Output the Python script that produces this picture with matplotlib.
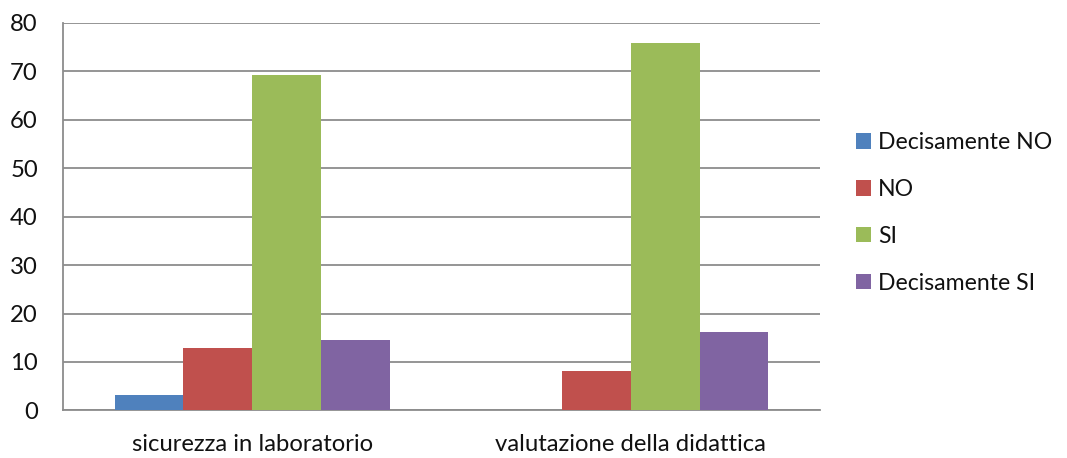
import numpy as np
import matplotlib
matplotlib.use("Agg")
import matplotlib.pyplot as plt
from matplotlib.patches import Patch

categories = ["sicurezza in laboratorio", "valutazione della didattica"]
series = ["Decisamente NO", "NO", "SI", "Decisamente SI"]
decisamente_no = [3.1, 0]
no = [12.9, 8.1]
si = [69.3, 75.9]
decisamente_si = [14.5, 16.1]
colors = ["#4f81bd", "#c0504d", "#9bbb59", "#8064a2"]

plt.rcParams['font.family'] = ['Lato', 'DejaVu Sans']

fig = plt.figure(figsize=(10.67, 4.58), dpi=100)
ax = fig.add_axes([0.059, 0.104, 0.7095, 0.846])

values = [decisamente_no, no, si, decisamente_si]
width = 1 / 5.5
x = np.arange(len(categories))
for i, (vals, c) in enumerate(zip(values, colors)):
    ax.bar(x + (i - 1.5) * width, vals, width, color=c, zorder=3)

ax.set_xlim(-0.5, 1.5)
ax.set_ylim(0, 80)
ax.set_yticks(range(0, 81, 10))
ax.set_xticks(x)
ax.set_xticklabels(categories)
ax.yaxis.grid(True, color="#8c8c8c", linewidth=1.3, zorder=0)
for s in ["top", "right"]:
    ax.spines[s].set_visible(False)
for s in ["left", "bottom"]:
    ax.spines[s].set_color("#8c8c8c")
    ax.spines[s].set_linewidth(1.3)
ax.tick_params(axis="both", length=0, labelsize=17.2, colors="#111111")
ax.tick_params(axis="y", pad=18)
ax.tick_params(axis="x", pad=17)

handles = [Patch(facecolor=c, label=s) for s, c in zip(series, colors)]
fig.legend(handles=handles, loc="center left", bbox_to_anchor=(0.783, 0.535),
           frameon=False, fontsize=16.6, handlelength=0.65, handleheight=0.65,
           handletextpad=0.3, labelspacing=1.12, labelcolor="#111111")

fig.savefig("out.png", dpi=100)
